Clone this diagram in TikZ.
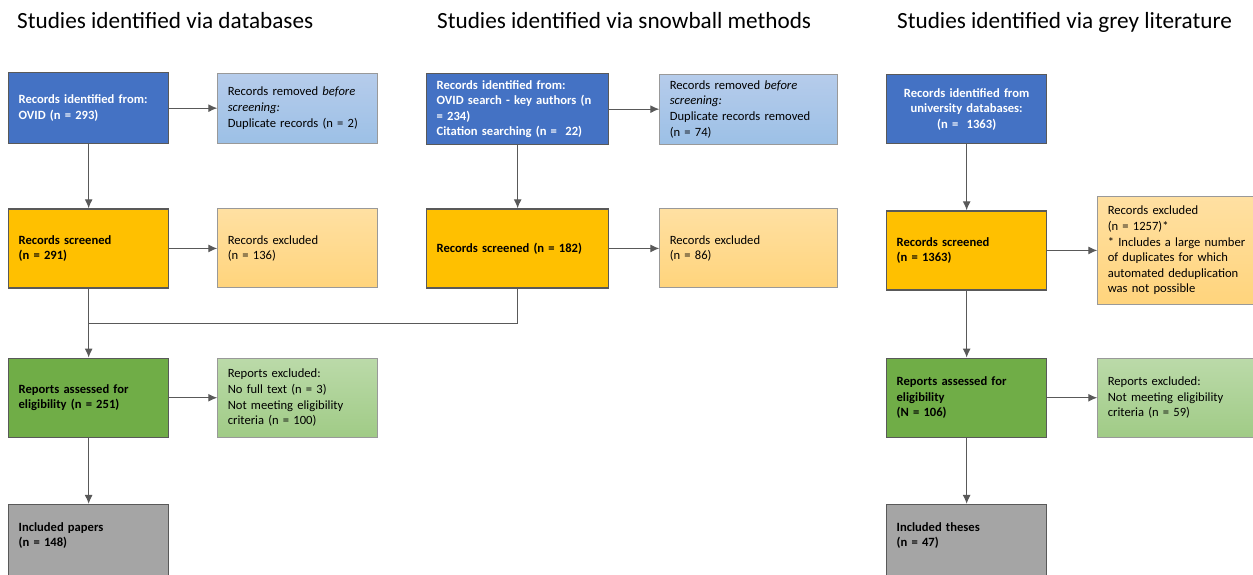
\documentclass[tikz,border=0pt]{standalone}
\usepackage{fontspec}
\setmainfont{Carlito}
\usepackage{tikz}
\usetikzlibrary{calc}
\usetikzlibrary{arrows.meta}
\usetikzlibrary{positioning}

\definecolor{idblue}{HTML}{4472C4}
\definecolor{scryellow}{HTML}{FFC000}
\definecolor{eliggreen}{HTML}{70AD47}
\definecolor{inclgray}{HTML}{A5A5A5}
\definecolor{remtop}{HTML}{B6CCEB}
\definecolor{rembot}{HTML}{9CC0E6}
\definecolor{exctop}{HTML}{FFE0A2}
\definecolor{excbot}{HTML}{FFD47C}
\definecolor{rexctop}{HTML}{BBDAA9}
\definecolor{rexcbot}{HTML}{A0CB86}

\begin{document}
\begin{tikzpicture}[x=1pt, y=-1pt]
  \tikzset{
    box/.style={draw=black!65, line width=1.3pt, rectangle, text width=140pt, inner xsep=10pt, align=left, font=\fontsize{12.6}{15.6}\selectfont\bfseries},
    ident/.style={box, fill=idblue, text=white, minimum height=71pt},
    screen/.style={box, fill=scryellow, minimum height=79pt},
    elig/.style={box, fill=eliggreen, minimum height=79pt},
    incl/.style={box, fill=inclgray, minimum height=80pt},
    side/.style={draw=black!40, line width=1pt, rectangle, text width=140pt, inner xsep=10pt, align=left, font=\fontsize{12.6}{15.6}\selectfont},
    removed/.style={side, top color=remtop, bottom color=rembot, minimum height=70pt},
    excl/.style={side, top color=exctop, bottom color=excbot, minimum height=79pt},
    rexcl/.style={side, top color=rexctop, bottom color=rexcbot, minimum height=79pt},
    title/.style={anchor=base west, inner sep=0pt, font=\fontsize{23.2}{28}\selectfont},
    line/.style={draw=black!65, line width=1.1pt, -{Latex[length=9pt, width=8pt]}},
  }
  \useasboundingbox (0,0) rectangle (1253,575);
  \clip (0,0) rectangle (1253,575);

  % headings
  \node [title] (ttl1) at (17,29) {Studies identified via databases};
  \node [title] (ttl2) at (437,29) {Studies identified via snowball methods};
  \node [title] (ttl3) at (897,29) {Studies identified via grey literature};

  % databases
  \node [ident, anchor=north west] (id1) at (8,72) {Records identified from:\\ OVID (n = 293)};
  \node [removed, right=48pt of id1] (rem1) {Records removed \textit{before}\\ \textit{screening:}\\ Duplicate records (n = 2)};
  \node [screen, below=64pt of id1] (scr1) {Records screened\\ (n = 291)};
  \node [excl, right=48pt of scr1] (exc1) {Records excluded\\ (n = 136)};
  \node [elig, below=69pt of scr1] (rep1) {Reports assessed for\\ eligibility (n = 251)};
  \node [rexcl, right=48pt of rep1] (rexc1) {Reports excluded:\\ No full text (n = 3)\\ Not meeting eligibility\\ criteria (n = 100)};
  \node [incl, below=66pt of rep1] (inc1) {Included papers\\ (n = 148)\\[4pt]\mbox{}};

  % snowball
  \node [ident, text width=162pt, anchor=north west] (id2) at (426,73) {Records identified from:\\ OVID search - key authors (n\\ = 234)\\ Citation searching (n =~ 22)};
  \node [removed, text width=158pt, right=50pt of id2] (rem2) {Records removed \textit{before}\\ \textit{screening:}\\ Duplicate records removed\\ (n = 74)};
  \node [screen, text width=162pt, below=63pt of id2] (scr2) {Records screened (n = 182)};
  \node [excl, text width=158pt, right=50pt of scr2] (exc2) {Records excluded\\ (n = 86)};

  % grey literature
  \node [ident, align=center, minimum height=69pt, anchor=north west] (id3) at (886,74) {Records identified from\\ university databases:\\ (n =~ 1363)};
  \node [screen, below=66pt of id3] (scr3) {Records screened\\ (n = 1363)};
  \node [excl, text width=150pt, minimum height=108pt, right=50pt of scr3] (exc3) {Records excluded\\ (n = 1257)*\\{}* Includes a large number\\ of duplicates for which\\ automated deduplication\\ was not possible};
  \node [elig, below=67pt of scr3] (rep3) {Reports assessed for\\ eligibility\\ (N = 106)};
  \node [rexcl, text width=150pt, right=50pt of rep3] (rexc3) {Reports excluded:\\ Not meeting eligibility\\ criteria (n = 59)};
  \node [incl, below=66pt of rep3] (inc3) {Included theses\\ (n = 47)\\[4pt]\mbox{}};

  \coordinate (merge) at ($(scr1.south)!0.5!(rep1.north)$);

  \path [line] (id1) -- (scr1);
  \path [line] (id1.east) -- (rem1.west);
  \path [line] (scr1.east) -- (exc1.west);
  \path [line] (scr1) -- (rep1);
  \draw [draw=black!65, line width=1.1pt] (scr2.south) |- (merge);
  \path [line] (rep1.east) -- (rexc1.west);
  \path [line] (rep1) -- (inc1);

  \path [line] (id2) -- (scr2);
  \path [line] (id2.east) -- (rem2.west);
  \path [line] (scr2.east) -- (exc2.west);

  \path [line] (id3) -- (scr3);
  \path [line] (scr3.east) -- (exc3.west);
  \path [line] (scr3) -- (rep3);
  \path [line] (rep3.east) -- (rexc3.west);
  \path [line] (rep3) -- (inc3);
\end{tikzpicture}
\end{document}
